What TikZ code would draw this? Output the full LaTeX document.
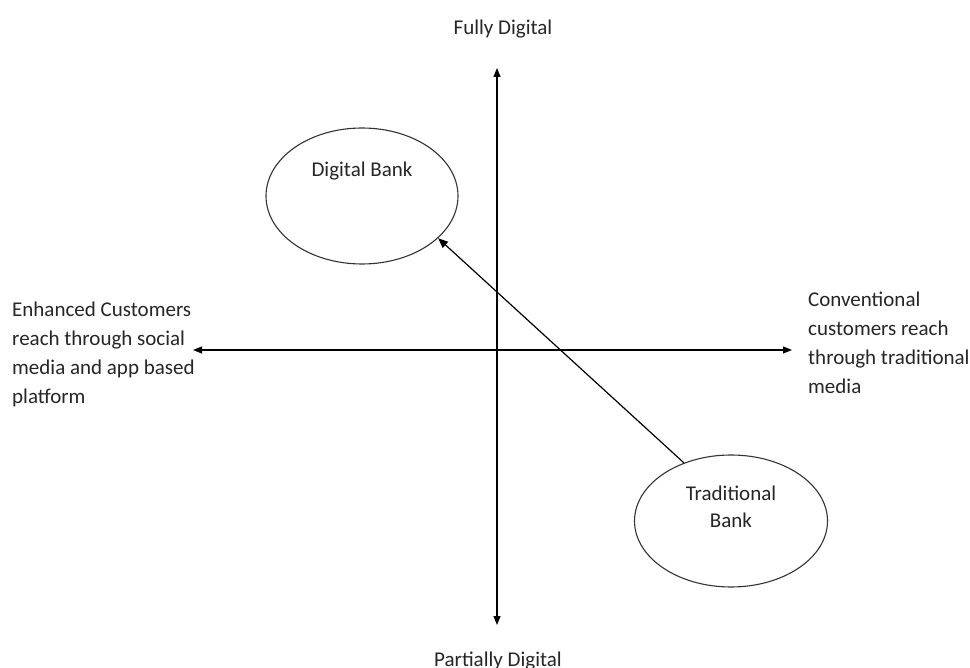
\documentclass[tikz,border=0pt]{standalone}
\usepackage{fontspec}
\setmainfont{Carlito}
\usetikzlibrary{arrows.meta,shapes.geometric}
\begin{document}
\begin{tikzpicture}[x=1pt,y=-1pt,
  lbl/.style={inner sep=0pt, font=\fontsize{21}{29}\selectfont, text=black!85},
  bank/.style={ellipse, draw=black!80, line width=1.1pt, inner sep=0pt},
  axis/.style={line width=1.2pt, {Triangle[length=9pt,width=7pt]}-{Triangle[length=9pt,width=7pt]}},
  link/.style={line width=1.2pt, -{Triangle[length=10pt,width=8pt]}}]
\useasboundingbox[fill=white] (0,0) rectangle (970,668);
% axes endpoints
\coordinate (top) at (497,68);
\coordinate (bot) at (497,625);
\coordinate (lft) at (193,350);
\coordinate (rgt) at (792,350);
\draw[axis] (top) -- (bot);
\draw[axis] (lft) -- (rgt);
% ellipses
\node[bank, minimum width=192pt, minimum height=136pt] (db) at (362,196) {};
\node[bank, minimum width=193pt, minimum height=132pt] (tb) at (731,521) {};
\node[lbl, anchor=base] (dbt) at (362,177) {Digital Bank};
\node[lbl, anchor=base, align=center, font=\fontsize{21}{27}\selectfont] (tbt) at (731,527) {Traditional\\Bank};
% arrow
\draw[link] (tb.{129}) -- (db.{-29});
% axis labels
\node[lbl, anchor=base] (fd) at (503,35) {Fully Digital};
\node[lbl, anchor=base] (pd) at (498,666) {Partially Digital};
\node[lbl, anchor=north west, align=left] (el) at (12,302) {Enhanced Customers\\reach through social\\media and app based\\platform};
\node[lbl, anchor=north west, align=left] (cr) at (808,292) {Conventional\\customers reach\\through traditional\\media};
\end{tikzpicture}
\end{document}
